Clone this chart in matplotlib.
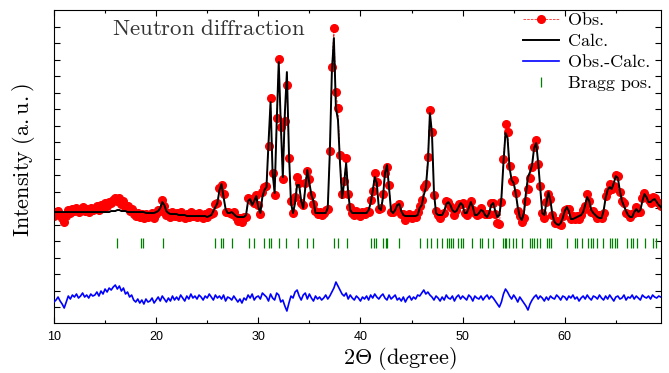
import numpy as np
import matplotlib
matplotlib.use("Agg")
import matplotlib.pyplot as plt

plt.rcParams['mathtext.fontset'] = 'cm'

# 2theta scan grid, 0.2 deg step
two_theta = np.round(np.linspace(10.0, 69.4, 298), 1)

# calculated profile (a.u.), 10 values per 2 deg
calc = [
    111, 111, 111, 111, 111, 111, 111, 111, 111, 111,
    111, 111, 111, 111, 111, 111, 111, 111, 111, 111,
    111, 111, 111, 111, 111, 111, 111, 111, 112, 112,
    112, 113, 113, 112, 112, 112, 111, 111, 111, 111,
    111, 111, 111, 111, 111, 110, 110, 110, 110, 110,
    111, 112, 115, 121, 118, 112, 110, 109, 109, 109,
    109, 108, 108, 108, 108, 107, 107, 107, 107, 107,
    107, 107, 107, 107, 107, 106, 107, 108, 112, 116,
    120, 133, 139, 126, 114, 110, 110, 111, 109, 107,
    106, 106, 106, 106, 108, 122, 124, 118, 122, 127,
    116, 110, 126, 133, 136, 180, 221, 150, 130, 200,
    261, 200, 146, 210, 251, 170, 120, 110, 120, 138,
    138, 122, 115, 135, 153, 140, 128, 122, 110, 110,
    110, 110, 110, 110, 115, 170, 250, 285, 215, 203,
    160, 125, 140, 160, 130, 113, 110, 110, 110, 110,
    110, 110, 110, 110, 113, 120, 132, 146, 140, 115,
    113, 125, 150, 158, 135, 112, 110, 113, 118, 119,
    112, 108, 107, 107, 107, 107, 107, 107, 108, 115,
    118, 128, 135, 160, 210, 190, 130, 110, 108, 108,
    108, 112, 119, 121, 118, 113, 111, 112, 116, 120,
    118, 110, 110, 115, 121, 116, 108, 108, 110, 113,
    112, 108, 106, 110, 118, 120, 112, 106, 108, 125,
    160, 190, 185, 155, 143, 140, 130, 116, 106, 103,
    110, 130, 146, 151, 158, 175, 180, 160, 135, 110,
    108, 120, 131, 122, 108, 101, 99, 98, 100, 105,
    112, 116, 112, 104, 104, 105, 106, 107, 108, 111,
    118, 126, 122, 113, 110, 108, 106, 105, 105, 112,
    125, 133, 136, 134, 140, 147, 145, 132, 122, 117,
    112, 108, 106, 106, 111, 114, 111, 113, 122, 129,
    126, 121, 121, 123, 124, 121, 118, 116,
]

# residual obs - calc
resid = [
    -4, -2, 1, -3, -6, -10, -4, 2, -1, 3,
    1, 4, 0, 2, 5, 1, 3, 0, 4, 2,
    3, 6, 2, 7, 4, 9, 6, 10, 8, 11,
    13, 9, 12, 7, 10, 4, 6, 1, 3, -2,
    -4, -1, -5, -2, -6, -1, -4, -3, 0, -5,
    -2, 1, -3, 2, -1, -4, 0, -3, 2, -2,
    1, -2, 3, 0, -3, 2, -1, 4, 0, 2,
    -1, 3, 1, -2, 2, 0, 4, 1, -2, 3,
    0, 2, -1, 3, -3, 1, 0, -2, 2, -1,
    -4, -1, -5, 0, -2, 3, 0, 4, -2, 1,
    2, -1, 5, 3, 1, -3, 4, 0, -2, 5,
    3, -4, -2, -8, -13, -5, 2, 0, 6, 8,
    2, -2, 3, 5, -1, 4, 0, -3, 2, -1,
    1, -2, 0, 3, -1, 2, 6, 10, 16, 12,
    8, 4, 2, 5, -1, 3, 0, -2, 2, 0,
    -3, 1, -1, 2, -2, 3, 0, 4, 1, -1,
    2, 4, 0, -2, 3, -1, 1, 3, -2, 0,
    -3, 1, -4, 0, 2, -2, 1, -1, 3, 2,
    5, 8, 4, 6, 3, 1, -2, 2, 0, -3,
    1, -2, 3, 0, -1, 2, -3, 1, 3, -1,
    2, 0, -2, 3, 1, -3, 2, 0, -1, 2,
    -2, 1, 3, -1, 2, 0, -3, -6, -9, -4,
    4, 9, 6, 2, -1, 3, 0, -4, 1, -2,
    -5, -8, -12, -6, -2, 1, 3, -1, 2, 0,
    -3, 1, -2, 2, 0, -1, 3, 1, -2, 2,
    1, -2, 2, 0, 3, -1, 1, -3, 0, 2,
    -1, 3, 0, -2, 2, 1, -1, 3, 0, -2,
    2, -1, 3, 0, -3, 1, 2, -1, 0, 3,
    -2, 1, 0, 3, -1, 2, 0, -2, 3, 1,
    0, 2, -1, 3, 1, 0, 2, 1,
]

bragg = [16.16, 18.51, 18.71, 20.67, 25.75, 26.34, 26.54, 27.42, 29.08, 29.57,
         30.55, 31.04, 31.23, 32.02, 32.70, 33.87, 34.76, 35.34, 37.40, 37.79,
         38.67, 41.02, 41.31, 41.51, 42.19, 42.49, 42.58, 43.76, 45.81, 46.50,
         46.89, 47.48, 47.96, 48.45, 48.65, 48.85, 49.04, 49.53, 49.82, 50.02,
         50.90, 51.68, 51.88, 52.47, 52.95, 53.93, 54.13, 54.23, 54.52, 54.91,
         55.21, 55.79, 56.58, 56.77, 56.97, 57.26, 57.55, 58.24, 58.43, 58.63,
         60.20, 60.98, 61.17, 61.66, 62.25, 62.54, 62.74, 63.13, 63.72, 64.40,
         64.60, 64.89, 65.09, 66.07, 66.46, 66.65, 67.05, 67.83, 68.62, 68.92]

calc = np.array(calc, dtype=float)
obs = calc + np.array(resid, dtype=float)
diff_offset = 25
bragg_level = 80

fig = plt.figure(figsize=(6.69, 3.73), dpi=100)
ax = fig.add_axes([0.0807, 0.134, 0.907, 0.839])

ax.plot(two_theta, obs, ls='--', lw=0.5, color='red', marker='o', ms=5.5,
        mec='red', mfc='red', label='Obs.', zorder=2)
ax.plot(two_theta, calc, color='black', lw=1.4, label='Calc.', zorder=3)
ax.plot(two_theta, obs - calc + diff_offset, color='blue', lw=1.2,
        label='Obs.-Calc.', zorder=3)
ax.plot(bragg, np.full(len(bragg), bragg_level), ls='none', marker='|', ms=7,
        mew=0.9, color='green', label='Bragg pos.')

ax.set_xlim(10, 69.4)
ax.set_ylim(0, 313)
ax.set_xticks(np.arange(10, 70, 10))
ax.set_xticks(np.arange(15, 70, 10), minor=True)
ax.set_yticks(np.arange(16, 313, 16.5))
ax.tick_params(which='both', direction='in', top=True, right=True, labelleft=False)
ax.tick_params(which='major', length=4, width=0.8, pad=6)
ax.tick_params(which='minor', length=2.5, width=0.8)
for lab in ax.get_xticklabels():
    lab.set_fontfamily('Liberation Sans')
    lab.set_fontsize(9)

ax.set_xlabel(r'$2\Theta\ \mathrm{(degree)}$', fontsize=16)
ax.xaxis.set_label_coords(0.57, -0.112, transform=ax.transAxes)
ax.xaxis.label.set_va('center')
ax.set_ylabel(r'$\mathrm{Intensity\ (a.u.)}$', fontsize=16)
ax.yaxis.set_label_coords(-0.05, 0.52)
ax.yaxis.label.set_va('center')
ax.text(15.7, 295, r'$\mathrm{Neutron\ diffraction}$', fontsize=16.5,
        color='#333333', va='center')

leg = ax.legend(loc='upper right', bbox_to_anchor=(1.012, 1.045), frameon=False,
                handlelength=2.0, handletextpad=0.5,
                labelspacing=0.3, numpoints=1, prop={'family': 'cmr10', 'size': 13})

fig.savefig('out.png', dpi=100)
